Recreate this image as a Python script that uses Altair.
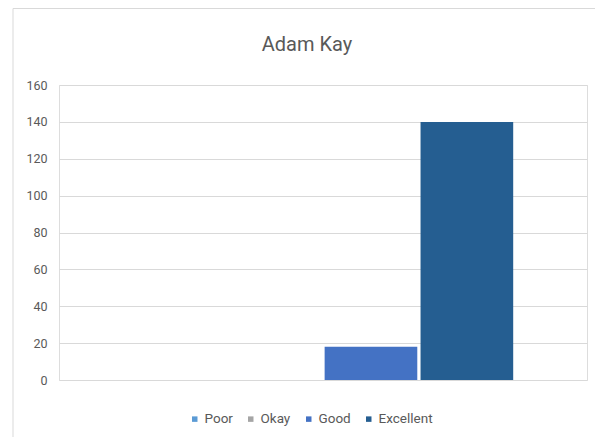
import altair as alt
import pandas as pd

category = ["Adam Kay"]
series = ["Poor", "Okay", "Good", "Excellent"]
values = [0, 0, 18, 140]
colors = ["#5B9BD5", "#A5A5A5", "#4472C4", "#255E91"]
y_ticks = [0, 20, 40, 60, 80, 100, 120, 140, 160]

FONT = "Roboto, Liberation Sans, sans-serif"

df = pd.DataFrame({"cat": category * len(series), "series": series, "value": values})
frame_df = pd.DataFrame({"k": [0]})

bars = alt.Chart(df).mark_bar().encode(
    x=alt.X("cat:N", axis=None,
            scale=alt.Scale(paddingInner=0, paddingOuter=0.194)),
    xOffset=alt.XOffset("series:N", sort=series,
                        scale=alt.Scale(paddingInner=0.034, paddingOuter=0)),
    y=alt.Y("value:Q",
            scale=alt.Scale(domain=[0, 160], nice=False),
            axis=alt.Axis(values=y_ticks, title=None, domain=False, ticks=False,
                          tickSize=0, labelPadding=12, labelFontSize=12.5,
                          labelColor="#595959", labelFont=FONT,
                          gridColor="#d9d9d9", gridWidth=1)),
    color=alt.Color("series:N", sort=series,
                    scale=alt.Scale(domain=series, range=colors),
                    legend=alt.Legend(title=None, orient="none", direction="horizontal",
                                      legendX=129, legendY=327,
                                      symbolType="square", symbolSize=30,
                                      symbolStrokeWidth=0, labelOffset=3,
                                      columnPadding=11, labelFontSize=13.5,
                                      labelColor="#595959", labelFont=FONT)),
)

frame_left = alt.Chart(frame_df).mark_rule(stroke="#d9d9d9", strokeWidth=1).encode(
    x=alt.value(-46), y=alt.value(-76.5), y2=alt.value(400)
)
frame_top = alt.Chart(frame_df).mark_rule(stroke="#d9d9d9", strokeWidth=1).encode(
    x=alt.value(-46), x2=alt.value(600), y=alt.value(-76.5)
)

chart = alt.layer(frame_left, frame_top, bars).properties(
    width=528, height=295,
    padding={"left": 51, "top": 77, "right": 8, "bottom": 57},
    autosize=alt.AutoSizeParams(type="none"),
    title=alt.TitleParams("Adam Kay", fontSize=20, color="#595959", font=FONT,
                          fontWeight="normal", anchor="middle", dx=-16, offset=-47),
).configure_view(strokeWidth=0, strokeOpacity=0).configure(background="white")

chart.save("out.html", embed_options={"renderer": "svg", "actions": False})
